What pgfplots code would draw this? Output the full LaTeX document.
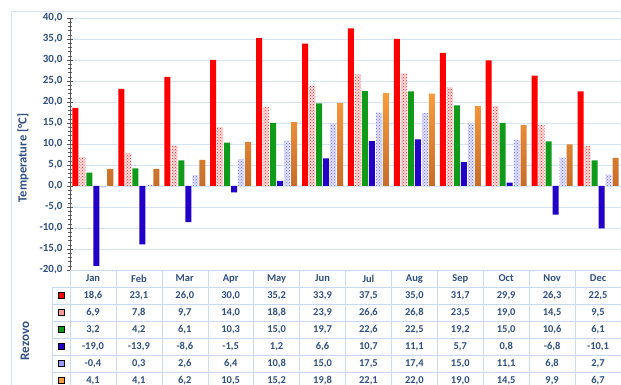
\documentclass[border=0pt]{standalone}
\usepackage{pgfplots}
\pgfplotsset{compat=1.18}
\usepackage{pgfplotstable}
\usetikzlibrary{patterns}
\usepackage{fontspec}
\setmainfont{Carlito}
\definecolor{txt}{HTML}{2F4F80}
\definecolor{gridc}{HTML}{D6E3F3}
\definecolor{tblc}{HTML}{C9DAF0}
\definecolor{cred}{HTML}{FF0000}
\definecolor{cgreen}{HTML}{109A1A}
\definecolor{cblue}{HTML}{2200C8}
\definecolor{orT}{HTML}{F89C3E}
\definecolor{orB}{HTML}{C66E2A}
\pgfplotstableread{
x s1 s2 s3 s4 s5 s6
0 18.6 6.9 3.2 -19.0 -0.4 4.1
1 23.1 7.8 4.2 -13.9 0.3 4.1
2 26.0 9.7 6.1 -8.6 2.6 6.2
3 30.0 14.0 10.3 -1.5 6.4 10.5
4 35.2 18.8 15.0 1.2 10.8 15.2
5 33.9 23.9 19.7 6.6 15.0 19.8
6 37.5 26.6 22.6 10.7 17.5 22.1
7 35.0 26.8 22.5 11.1 17.4 22.0
8 31.7 23.5 19.2 5.7 15.0 19.0
9 29.9 19.0 15.0 0.8 11.1 14.5
10 26.3 14.5 10.6 -6.8 6.8 9.9
11 22.5 9.5 6.1 -10.1 2.7 6.7
}\data
\pgfplotstableread{
x m
0 Jan
1 Feb
2 Mar
3 Apr
4 May
5 Jun
6 Jul
7 Aug
8 Sep
9 Oct
10 Nov
11 Dec
}\months
\begin{document}
\begin{tikzpicture}[x=1pt,y=1pt]
\useasboundingbox (0,0) rectangle (621,385);
\draw[gridc] (11,0) -- (11,374) -- (621,374);
\begin{axis}[at={(70pt,115pt)}, anchor=south west, scale only axis,
  width=551pt, height=252pt,
  xmin=-0.5, xmax=11.5, ymin=-20, ymax=40,
  axis x line=none, axis y line*=left,
  ytick={-20,-15,...,40}, minor y tick num=4,
  tick align=center, major tick length=6pt, minor tick length=4pt,
  tick style={black!65}, axis line style={black!65},
  ymajorgrids, grid style={gridc},
  yticklabel={\pgfmathprintnumber[fixed,fixed zerofill,precision=1,use comma,assume math mode=true]{\tick}},
  yticklabel style={font=\bfseries\fontsize{11}{13}\selectfont, text=txt, xshift=-1pt},
  ybar=1pt, bar width=6pt,
]
\addplot[draw=none, fill=cred] table[x=x,y=s1]{\data};
\addplot[draw=none, fill=red!15, postaction={pattern=crosshatch dots, pattern color=red!85}] table[x=x,y=s2]{\data};
\addplot[draw=none, fill=cgreen] table[x=x,y=s3]{\data};
\addplot[draw=none, fill=cblue] table[x=x,y=s4]{\data};
\addplot[draw=none, fill=blue!12, postaction={pattern=crosshatch dots, pattern color=blue!60}] table[x=x,y=s5]{\data};
\addplot[draw=none, top color=orT, bottom color=orB] table[x=x,y=s6]{\data};
\end{axis}
\begin{axis}[at={(70pt,115pt)}, anchor=north west, scale only axis,
  width=551pt, height=119pt,
  xmin=-0.5, xmax=11.5, ymin=0, ymax=7, y dir=reverse,
  hide axis, clip=false,
  every node near coord/.append style={font=\bfseries\fontsize{10.5}{12}\selectfont, text=txt},
  nodes near coords align={center},
]
\draw[tblc] (axis cs:-0.5,0) -- (axis cs:11.5,0);
\pgfplotsinvokeforeach{1,...,7}{\draw[tblc] (axis cs:-0.892,#1) -- (axis cs:11.5,#1);}
\pgfplotsinvokeforeach{-0.5,0.5,1.5,2.5,3.5,4.5,5.5,6.5,7.5,8.5,9.5,10.5,11.5}{\draw[tblc] (axis cs:#1,0) -- (axis cs:#1,7);}
\draw[tblc] (axis cs:-0.892,1) -- (axis cs:-0.892,7);
\addplot[draw=none, mark=none, nodes near coords, point meta=explicit symbolic] table[x=x, y expr=0.5, meta=m]{\months};
\pgfplotsinvokeforeach{1,...,6}{
\addplot[draw=none, mark=none, point meta=explicit,
  nodes near coords={\pgfmathprintnumber[fixed,fixed zerofill,precision=1,use comma,assume math mode=true]{\pgfplotspointmeta}}]
  table[x=x, y expr=#1+0.5, meta=s#1]{\data};
}
\addplot[only marks, mark=square*, mark size=3pt, mark options={draw=none, fill=cred}] coordinates {(-0.696,1.5)};
\addplot[only marks, mark=square*, mark size=3pt, mark options={draw=none, fill=red!40}] coordinates {(-0.696,2.5)};
\addplot[only marks, mark=square*, mark size=3pt, mark options={draw=none, fill=cgreen}] coordinates {(-0.696,3.5)};
\addplot[only marks, mark=square*, mark size=3pt, mark options={draw=none, fill=cblue}] coordinates {(-0.696,4.5)};
\addplot[only marks, mark=square*, mark size=3pt, mark options={draw=none, fill=blue!40}] coordinates {(-0.696,5.5)};
\addplot[only marks, mark=square*, mark size=3pt, mark options={draw=none, fill=orT}] coordinates {(-0.696,6.5)};
\end{axis}
\node[rotate=90, font=\bfseries\fontsize{12.5}{15}\selectfont, text=txt] at (23,227) {Temperature [°C]};
\node[rotate=90, font=\bfseries\fontsize{13}{15}\selectfont, text=txt] at (25,44) {Rezovo};
\end{tikzpicture}
\end{document}
